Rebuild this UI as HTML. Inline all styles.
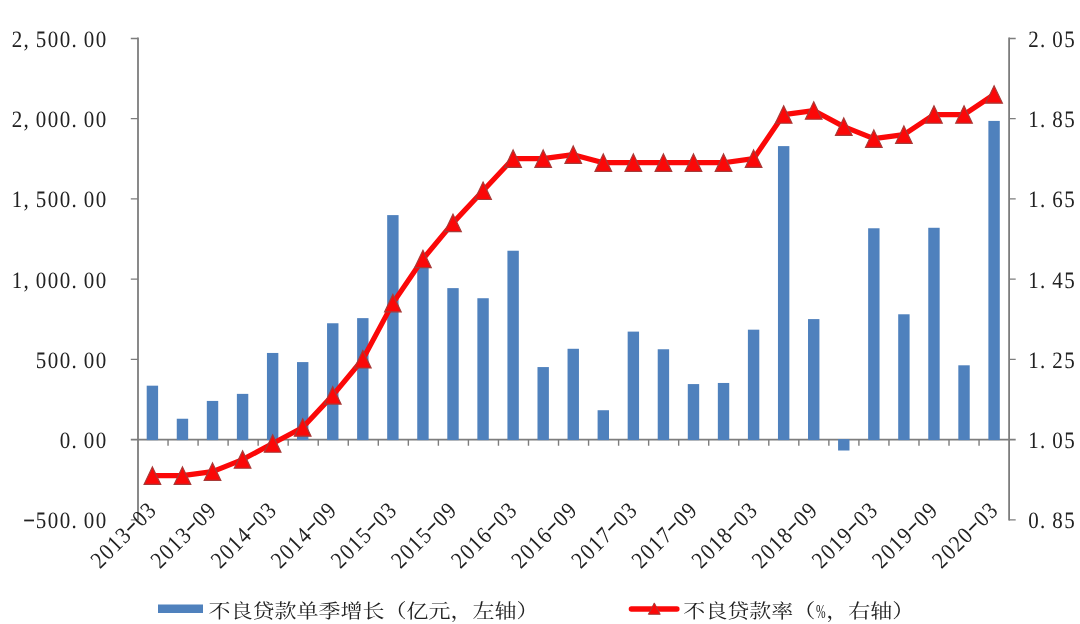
<!DOCTYPE html>
<html lang="zh-CN"><head><meta charset="utf-8"><title>不良贷款</title>
<style>html,body{margin:0;padding:0;background:#fff;overflow:hidden}svg{display:block}</style>
</head><body>
<svg width="1080" height="624" viewBox="0 0 1080 624">
<rect width="1080" height="624" fill="#fff"/>
<g stroke="#7d7d7d" stroke-width="1.8" fill="none">
<path d="M138.00 37.55V520.55"/>
<path d="M1009.10 37.55V520.55"/>
<path d="M130.80 439.60H1015.70"/>
<path stroke-width="1.4" d="M130.80 519.83H138.00M1009.10 519.83H1015.70M130.80 359.37H138.00M1009.10 359.37H1015.70M130.80 279.13H138.00M1009.10 279.13H1015.70M130.80 198.90H138.00M1009.10 198.90H1015.70M130.80 118.67H138.00M1009.10 118.67H1015.70M130.80 38.43H138.00M1009.10 38.43H1015.70M168.04 439.60V445.80M198.08 439.60V445.80M228.11 439.60V445.80M258.15 439.60V445.80M288.19 439.60V445.80M318.23 439.60V445.80M348.27 439.60V445.80M378.30 439.60V445.80M408.34 439.60V445.80M438.38 439.60V445.80M468.42 439.60V445.80M498.46 439.60V445.80M528.49 439.60V445.80M558.53 439.60V445.80M588.57 439.60V445.80M618.61 439.60V445.80M648.64 439.60V445.80M678.68 439.60V445.80M708.72 439.60V445.80M738.76 439.60V445.80M768.80 439.60V445.80M798.83 439.60V445.80M828.87 439.60V445.80M858.91 439.60V445.80M888.95 439.60V445.80M918.99 439.60V445.80M949.02 439.60V445.80M979.06 439.60V445.80"/>
</g>
<g fill="#4f81bd">
<rect x="146.70" y="385.68" width="11.40" height="54.42"/>
<rect x="176.76" y="418.74" width="11.40" height="21.36"/>
<rect x="206.82" y="400.93" width="11.40" height="39.17"/>
<rect x="236.88" y="393.87" width="11.40" height="46.23"/>
<rect x="266.94" y="352.95" width="11.40" height="87.15"/>
<rect x="297.00" y="362.09" width="11.40" height="78.01"/>
<rect x="327.06" y="323.26" width="11.40" height="116.84"/>
<rect x="357.12" y="318.13" width="11.40" height="121.97"/>
<rect x="387.18" y="215.11" width="11.40" height="224.99"/>
<rect x="417.24" y="264.05" width="11.40" height="176.05"/>
<rect x="447.30" y="288.12" width="11.40" height="151.98"/>
<rect x="477.36" y="298.23" width="11.40" height="141.87"/>
<rect x="507.42" y="250.73" width="11.40" height="189.37"/>
<rect x="537.48" y="367.07" width="11.40" height="73.03"/>
<rect x="567.54" y="348.78" width="11.40" height="91.32"/>
<rect x="597.60" y="410.23" width="11.40" height="29.87"/>
<rect x="627.66" y="331.61" width="11.40" height="108.49"/>
<rect x="657.72" y="349.26" width="11.40" height="90.84"/>
<rect x="687.78" y="384.08" width="11.40" height="56.02"/>
<rect x="717.84" y="382.96" width="11.40" height="57.14"/>
<rect x="747.90" y="329.68" width="11.40" height="110.42"/>
<rect x="777.96" y="146.11" width="11.40" height="293.99"/>
<rect x="808.02" y="319.09" width="11.40" height="121.01"/>
<rect x="838.08" y="439.10" width="11.40" height="11.41"/>
<rect x="868.14" y="228.27" width="11.40" height="211.83"/>
<rect x="898.20" y="314.28" width="11.40" height="125.82"/>
<rect x="928.26" y="227.78" width="11.40" height="212.32"/>
<rect x="958.32" y="365.30" width="11.40" height="74.80"/>
<rect x="988.38" y="120.91" width="11.40" height="319.19"/>
</g>
<polyline fill="none" stroke="#fb0808" stroke-width="5.2" stroke-linejoin="round" stroke-linecap="round" points="152.40,475.62 182.46,475.62 212.52,471.61 242.58,459.57 272.64,443.53 302.70,427.48 332.76,395.39 362.82,359.28 392.88,303.12 422.94,258.99 453.00,222.89 483.06,190.79 513.12,158.70 543.18,158.70 573.24,154.69 603.30,162.71 633.36,162.71 663.42,162.71 693.48,162.71 723.54,162.71 753.60,158.70 783.66,114.57 813.72,110.56 843.78,126.61 873.84,138.64 903.90,134.63 933.96,114.57 964.02,114.57 994.08,94.51"/>
<g fill="#fb0808" stroke="#a83a38" stroke-width="1.2" stroke-linejoin="miter">
<path d="M152.40 466.92L160.70 484.32L144.10 484.32Z"/>
<path d="M182.46 466.92L190.76 484.32L174.16 484.32Z"/>
<path d="M212.52 462.91L220.82 480.31L204.22 480.31Z"/>
<path d="M242.58 450.88L250.88 468.27L234.28 468.27Z"/>
<path d="M272.64 434.83L280.94 452.23L264.34 452.23Z"/>
<path d="M302.70 418.78L311.00 436.18L294.40 436.18Z"/>
<path d="M332.76 386.69L341.06 404.09L324.46 404.09Z"/>
<path d="M362.82 350.58L371.12 367.98L354.52 367.98Z"/>
<path d="M392.88 294.42L401.18 311.82L384.58 311.82Z"/>
<path d="M422.94 250.29L431.24 267.69L414.64 267.69Z"/>
<path d="M453.00 214.19L461.30 231.59L444.70 231.59Z"/>
<path d="M483.06 182.09L491.36 199.49L474.76 199.49Z"/>
<path d="M513.12 150.00L521.42 167.40L504.82 167.40Z"/>
<path d="M543.18 150.00L551.48 167.40L534.88 167.40Z"/>
<path d="M573.24 145.99L581.54 163.39L564.94 163.39Z"/>
<path d="M603.30 154.01L611.60 171.41L595.00 171.41Z"/>
<path d="M633.36 154.01L641.66 171.41L625.06 171.41Z"/>
<path d="M663.42 154.01L671.72 171.41L655.12 171.41Z"/>
<path d="M693.48 154.01L701.78 171.41L685.18 171.41Z"/>
<path d="M723.54 154.01L731.84 171.41L715.24 171.41Z"/>
<path d="M753.60 150.00L761.90 167.40L745.30 167.40Z"/>
<path d="M783.66 105.87L791.96 123.27L775.36 123.27Z"/>
<path d="M813.72 101.86L822.02 119.26L805.42 119.26Z"/>
<path d="M843.78 117.91L852.08 135.31L835.48 135.31Z"/>
<path d="M873.84 129.94L882.14 147.34L865.54 147.34Z"/>
<path d="M903.90 125.93L912.20 143.33L895.60 143.33Z"/>
<path d="M933.96 105.87L942.26 123.27L925.66 123.27Z"/>
<path d="M964.02 105.87L972.32 123.27L955.72 123.27Z"/>
<path d="M994.08 85.81L1002.38 103.21L985.78 103.21Z"/>
</g>
<g font-family='"Liberation Serif", "Noto Serif CJK SC", serif' fill="#222" text-rendering="geometricPrecision">
<text transform="translate(107.10 528.28) scale(0.84 0.94)" x="-92.86 -78.57 -64.29 -50.00 -39.29 -21.43 -7.14" y="0" dy="-2.9 2.9 0 0 0 0 0" font-size="25" text-anchor="middle"><tspan textLength="15" lengthAdjust="spacingAndGlyphs">-</tspan>500.00</text>
<text transform="translate(107.10 448.05) scale(0.84 0.94)" x="-50.00 -39.29 -21.43 -7.14" y="0" font-size="25" text-anchor="middle">0.00</text>
<text transform="translate(107.10 367.82) scale(0.84 0.94)" x="-78.57 -64.29 -50.00 -39.29 -21.43 -7.14" y="0" font-size="25" text-anchor="middle">500.00</text>
<text transform="translate(107.10 287.58) scale(0.84 0.94)" x="-107.14 -96.43 -78.57 -64.29 -50.00 -39.29 -21.43 -7.14" y="0" font-size="25" text-anchor="middle">1,000.00</text>
<text transform="translate(107.10 207.35) scale(0.84 0.94)" x="-107.14 -96.43 -78.57 -64.29 -50.00 -39.29 -21.43 -7.14" y="0" font-size="25" text-anchor="middle">1,500.00</text>
<text transform="translate(107.10 127.12) scale(0.84 0.94)" x="-107.14 -96.43 -78.57 -64.29 -50.00 -39.29 -21.43 -7.14" y="0" font-size="25" text-anchor="middle">2,000.00</text>
<text transform="translate(107.10 46.88) scale(0.84 0.94)" x="-107.14 -96.43 -78.57 -64.29 -50.00 -39.29 -21.43 -7.14" y="0" font-size="25" text-anchor="middle">2,500.00</text>
<text transform="translate(1027.50 528.20) scale(0.84 0.94)" x="7.14 17.86 35.71 50.00" y="0" font-size="25" text-anchor="middle">0.85</text>
<text transform="translate(1027.50 447.97) scale(0.84 0.94)" x="7.14 17.86 35.71 50.00" y="0" font-size="25" text-anchor="middle">1.05</text>
<text transform="translate(1027.50 367.73) scale(0.84 0.94)" x="7.14 17.86 35.71 50.00" y="0" font-size="25" text-anchor="middle">1.25</text>
<text transform="translate(1027.50 287.50) scale(0.84 0.94)" x="7.14 17.86 35.71 50.00" y="0" font-size="25" text-anchor="middle">1.45</text>
<text transform="translate(1027.50 207.27) scale(0.84 0.94)" x="7.14 17.86 35.71 50.00" y="0" font-size="25" text-anchor="middle">1.65</text>
<text transform="translate(1027.50 127.03) scale(0.84 0.94)" x="7.14 17.86 35.71 50.00" y="0" font-size="25" text-anchor="middle">1.85</text>
<text transform="translate(1027.50 46.80) scale(0.84 0.94)" x="7.14 17.86 35.71 50.00" y="0" font-size="25" text-anchor="middle">2.05</text>
<text transform="translate(157.60 511.70) rotate(-45) scale(0.84 0.94)" x="-90.92 -76.93 -62.95 -48.96 -34.97 -20.98 -6.99" y="0" dy="0 0 0 0 -2.9 2.9 0" font-size="25" text-anchor="middle">2013<tspan textLength="15" lengthAdjust="spacingAndGlyphs">-</tspan>03</text>
<text transform="translate(217.72 511.70) rotate(-45) scale(0.84 0.94)" x="-90.92 -76.93 -62.95 -48.96 -34.97 -20.98 -6.99" y="0" dy="0 0 0 0 -2.9 2.9 0" font-size="25" text-anchor="middle">2013<tspan textLength="15" lengthAdjust="spacingAndGlyphs">-</tspan>09</text>
<text transform="translate(277.84 511.70) rotate(-45) scale(0.84 0.94)" x="-90.92 -76.93 -62.95 -48.96 -34.97 -20.98 -6.99" y="0" dy="0 0 0 0 -2.9 2.9 0" font-size="25" text-anchor="middle">2014<tspan textLength="15" lengthAdjust="spacingAndGlyphs">-</tspan>03</text>
<text transform="translate(337.96 511.70) rotate(-45) scale(0.84 0.94)" x="-90.92 -76.93 -62.95 -48.96 -34.97 -20.98 -6.99" y="0" dy="0 0 0 0 -2.9 2.9 0" font-size="25" text-anchor="middle">2014<tspan textLength="15" lengthAdjust="spacingAndGlyphs">-</tspan>09</text>
<text transform="translate(398.08 511.70) rotate(-45) scale(0.84 0.94)" x="-90.92 -76.93 -62.95 -48.96 -34.97 -20.98 -6.99" y="0" dy="0 0 0 0 -2.9 2.9 0" font-size="25" text-anchor="middle">2015<tspan textLength="15" lengthAdjust="spacingAndGlyphs">-</tspan>03</text>
<text transform="translate(458.20 511.70) rotate(-45) scale(0.84 0.94)" x="-90.92 -76.93 -62.95 -48.96 -34.97 -20.98 -6.99" y="0" dy="0 0 0 0 -2.9 2.9 0" font-size="25" text-anchor="middle">2015<tspan textLength="15" lengthAdjust="spacingAndGlyphs">-</tspan>09</text>
<text transform="translate(518.32 511.70) rotate(-45) scale(0.84 0.94)" x="-90.92 -76.93 -62.95 -48.96 -34.97 -20.98 -6.99" y="0" dy="0 0 0 0 -2.9 2.9 0" font-size="25" text-anchor="middle">2016<tspan textLength="15" lengthAdjust="spacingAndGlyphs">-</tspan>03</text>
<text transform="translate(578.44 511.70) rotate(-45) scale(0.84 0.94)" x="-90.92 -76.93 -62.95 -48.96 -34.97 -20.98 -6.99" y="0" dy="0 0 0 0 -2.9 2.9 0" font-size="25" text-anchor="middle">2016<tspan textLength="15" lengthAdjust="spacingAndGlyphs">-</tspan>09</text>
<text transform="translate(638.56 511.70) rotate(-45) scale(0.84 0.94)" x="-90.92 -76.93 -62.95 -48.96 -34.97 -20.98 -6.99" y="0" dy="0 0 0 0 -2.9 2.9 0" font-size="25" text-anchor="middle">2017<tspan textLength="15" lengthAdjust="spacingAndGlyphs">-</tspan>03</text>
<text transform="translate(698.68 511.70) rotate(-45) scale(0.84 0.94)" x="-90.92 -76.93 -62.95 -48.96 -34.97 -20.98 -6.99" y="0" dy="0 0 0 0 -2.9 2.9 0" font-size="25" text-anchor="middle">2017<tspan textLength="15" lengthAdjust="spacingAndGlyphs">-</tspan>09</text>
<text transform="translate(758.80 511.70) rotate(-45) scale(0.84 0.94)" x="-90.92 -76.93 -62.95 -48.96 -34.97 -20.98 -6.99" y="0" dy="0 0 0 0 -2.9 2.9 0" font-size="25" text-anchor="middle">2018<tspan textLength="15" lengthAdjust="spacingAndGlyphs">-</tspan>03</text>
<text transform="translate(818.92 511.70) rotate(-45) scale(0.84 0.94)" x="-90.92 -76.93 -62.95 -48.96 -34.97 -20.98 -6.99" y="0" dy="0 0 0 0 -2.9 2.9 0" font-size="25" text-anchor="middle">2018<tspan textLength="15" lengthAdjust="spacingAndGlyphs">-</tspan>09</text>
<text transform="translate(879.04 511.70) rotate(-45) scale(0.84 0.94)" x="-90.92 -76.93 -62.95 -48.96 -34.97 -20.98 -6.99" y="0" dy="0 0 0 0 -2.9 2.9 0" font-size="25" text-anchor="middle">2019<tspan textLength="15" lengthAdjust="spacingAndGlyphs">-</tspan>03</text>
<text transform="translate(939.16 511.70) rotate(-45) scale(0.84 0.94)" x="-90.92 -76.93 -62.95 -48.96 -34.97 -20.98 -6.99" y="0" dy="0 0 0 0 -2.9 2.9 0" font-size="25" text-anchor="middle">2019<tspan textLength="15" lengthAdjust="spacingAndGlyphs">-</tspan>09</text>
<text transform="translate(999.28 511.70) rotate(-45) scale(0.84 0.94)" x="-90.92 -76.93 -62.95 -48.96 -34.97 -20.98 -6.99" y="0" dy="0 0 0 0 -2.9 2.9 0" font-size="25" text-anchor="middle">2020<tspan textLength="15" lengthAdjust="spacingAndGlyphs">-</tspan>03</text>
</g>
<rect x="158" y="604.5" width="45" height="8.5" fill="#4f81bd"/>
<text transform="translate(208.60 617.50) scale(1 0.88)" x="0.00 22.00 44.00 66.00 88.00 110.00 132.00 154.00 176.00 198.00 220.00 242.00 264.00 286.00 308.00" y="0" font-family='"Liberation Serif", "Noto Serif CJK SC", serif' font-size="22" fill="#222">不良贷款单季增长（亿元，左轴）</text>
<path d="M631.4 609.00H676.9" stroke="#fb0808" stroke-width="5.4" stroke-linecap="round" fill="none"/>
<path d="M654.30 602.90L660.20 614.30L648.40 614.30Z" fill="#fb0808" stroke="#a83a38" stroke-width="1"/>
<text transform="translate(683.30 617.50) scale(1 0.88)" x="0.00 22.00 44.00 66.00 88.00 110.00 132.80 143.00 165.00 187.00 209.00" y="0" font-family='"Liberation Serif", "Noto Serif CJK SC", serif' font-size="22" fill="#222">不良贷款率（<tspan textLength="9.6" lengthAdjust="spacingAndGlyphs">%</tspan>，右轴）</text>
</svg>
</body></html>
